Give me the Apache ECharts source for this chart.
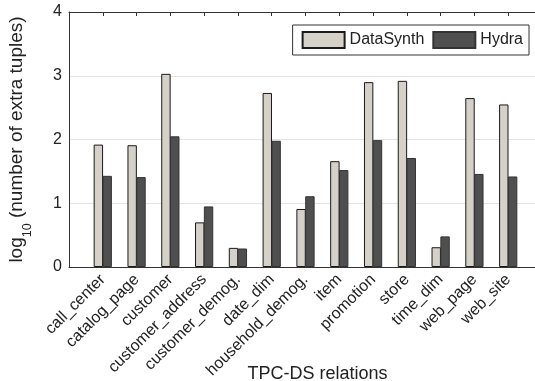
<!DOCTYPE html>
<html>
<head>
<meta charset="utf-8">
<script src="https://cdn.jsdelivr.net/npm/echarts@6/dist/echarts.min.js"></script>
<style>
  html, body { margin: 0; padding: 0; background: #fff; }
  #main { width: 535px; height: 381px; }
</style>
</head>
<body>
<div id="main"></div>
<script>
// TPC-DS relations, log10 of extra tuples
var relations = ["call_center", "catalog_page", "customer", "customer_address", "customer_demog.",
    "date_dim", "household_demog.", "item", "promotion", "store", "time_dim", "web_page", "web_site"];
var dataSynth = [1.92, 1.91, 3.03, 0.70, 0.30, 2.73, 0.91, 1.66, 2.90, 2.92, 0.31, 2.65, 2.55];
var hydra = [1.43, 1.41, 2.05, 0.95, 0.29, 1.98, 1.11, 1.52, 1.99, 1.71, 0.48, 1.46, 1.42];
var yTicks = [0, 1, 2, 3, 4];

var font = "Liberation Sans, Arial, sans-serif";

// empty slot on each side, like an xlim of [0 14]
var slots = [''].concat(relations, ['']);
function padded(vals) {
    return [null].concat(vals, [null]);
}
function isReal(i) {
    return i > 0 && i < slots.length - 1;
}

var chart = echarts.init(document.getElementById('main'));
chart.setOption({
    animation: false,
    textStyle: {fontFamily: font},
    grid: {left: 69, top: 12, right: -7, bottom: 114, outerBoundsMode: 'none', containLabel: false},
    legend: {
        right: 6, top: 25,
        icon: 'rect',
        itemWidth: 42, itemHeight: 16, itemGap: 8,
        padding: [6, 6, 6, 9],
        borderColor: '#333', borderWidth: 1, backgroundColor: '#fff',
        textStyle: {fontSize: 16, color: '#222', fontFamily: font},
        data: ['DataSynth', 'Hydra']
    },
    xAxis: [{
        type: 'category', data: slots, boundaryGap: false,
        name: 'TPC-DS relations', nameLocation: 'middle', nameGap: 98,
        nameMoveOverlap: false,
        nameTextStyle: {fontSize: 18, color: '#222', padding: [0, 0, 0, 24]},
        axisLine: {lineStyle: {color: '#333'}},
        axisTick: {show: false},
        splitLine: {show: false},
        axisLabel: {
            rotate: 45, fontSize: 16, color: '#222', margin: 10,
            interval: function (i) { return isReal(i); }
        }
    }, {
        type: 'category', data: slots, boundaryGap: false, position: 'top',
        axisLine: {show: true, lineStyle: {color: '#333'}},
        axisTick: {show: true, inside: true, length: 4, lineStyle: {color: '#333'},
            interval: function (i) { return isReal(i); }},
        axisLabel: {show: false},
        splitLine: {show: false}
    }],
    yAxis: {
        type: 'value', min: yTicks[0], max: yTicks[yTicks.length - 1], interval: 1,
        name: 'log{sub|10} (number of extra tuples)',
        nameLocation: 'middle', nameGap: 43, nameRotate: 90,
        nameTextStyle: {
            fontSize: 19, color: '#222',
            rich: {sub: {fontSize: 12.5, color: '#222', verticalAlign: 'bottom', padding: [0, 0, -8, 0]}}
        },
        axisLine: {show: true, lineStyle: {color: '#333'}},
        axisTick: {show: false},
        axisLabel: {fontSize: 16, color: '#222', margin: 7},
        splitLine: {lineStyle: {color: '#e3e3e3'}}
    },
    series: [{
        name: 'DataSynth', type: 'bar', data: padded(dataSynth),
        barWidth: 9.4, barGap: '-6%',
        itemStyle: {color: '#d5d1c9', borderColor: '#1a1a1a', borderWidth: 1}
    }, {
        name: 'Hydra', type: 'bar', data: padded(hydra),
        barWidth: 9.4, barGap: '-6%',
        itemStyle: {color: '#4f4f4f', borderColor: '#333', borderWidth: 1}
    }]
});
</script>
</body>
</html>
